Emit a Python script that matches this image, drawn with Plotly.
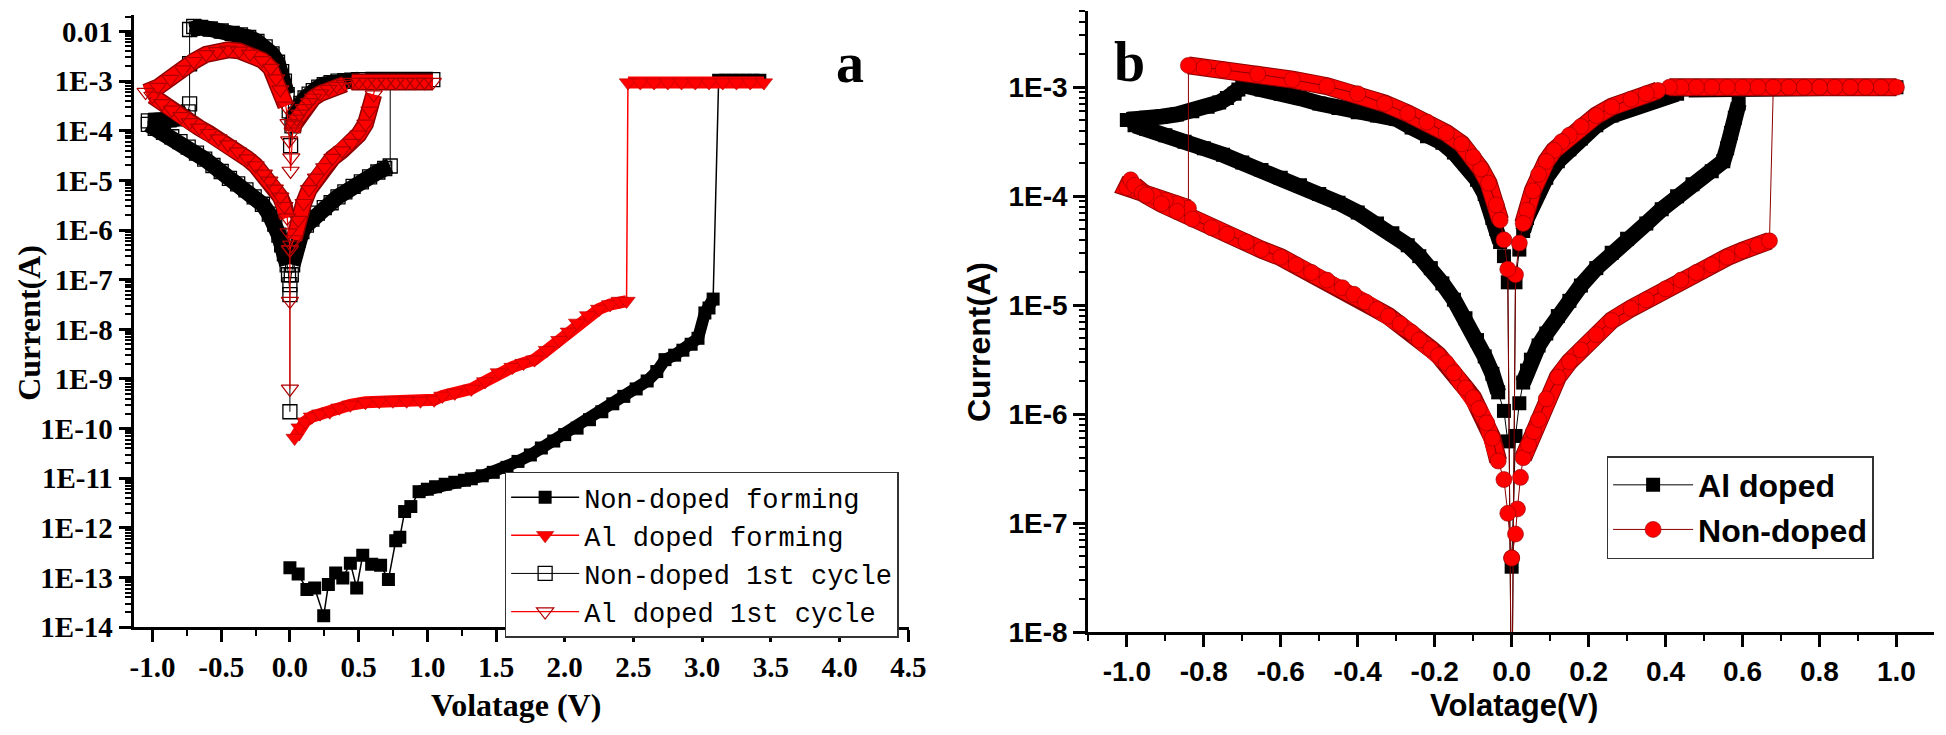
import plotly.graph_objects as go

# ================= Panel a (values are log10 of current in A) =================
# Non-doped forming
ndf_V_noise = [0.0, 0.06, 0.124, 0.18, 0.246, 0.28, 0.333, 0.385, 0.44, 0.486, 0.53, 0.595, 0.66, 0.717, 0.77, 0.80, 0.835, 0.88]
ndf_L_noise = [-12.8, -12.93, -13.24, -13.21, -13.77, -13.14, -12.91, -13.01, -12.71, -13.21, -12.55, -12.73, -12.75, -13.04, -12.26, -12.19, -11.67, -11.57]
ndf_V_rise = [0.94, 1.0, 1.06, 1.13, 1.2, 1.27, 1.32, 1.4, 1.48, 1.58, 1.66, 1.75, 1.83, 1.92, 2.0, 2.09, 2.18, 2.27, 2.35, 2.43, 2.52, 2.6, 2.67, 2.73, 2.8, 2.86, 2.92, 2.97, 3.02, 3.05, 3.08]
ndf_L_rise = [-11.27, -11.22, -11.17, -11.12, -11.08, -11.04, -11.01, -10.95, -10.88, -10.78, -10.66, -10.53, -10.39, -10.25, -10.12, -9.99, -9.82, -9.66, -9.5, -9.35, -9.2, -9.04, -8.85, -8.61, -8.52, -8.42, -8.3, -8.18, -7.67, -7.57, -7.39]
ndf_V_cc = [3.12, 3.17, 3.22, 3.27, 3.32, 3.37, 3.42]
ndf_L_cc = [-2.98, -2.98, -2.98, -2.98, -2.98, -2.98, -2.98]

# Al doped forming
alf_V_rise = [0.034, 0.07, 0.11, 0.16, 0.22, 0.29, 0.36, 0.44, 0.55, 0.65, 0.75, 0.85, 0.95, 1.05, 1.11, 1.2, 1.32, 1.42, 1.52, 1.62, 1.7, 1.78, 1.87, 1.96, 2.03, 2.09, 2.17, 2.25, 2.33, 2.4, 2.45]
alf_L_rise = [-10.19, -9.98, -9.86, -9.76, -9.7, -9.66, -9.58, -9.52, -9.47, -9.45, -9.44, -9.44, -9.44, -9.42, -9.34, -9.28, -9.2, -9.05, -8.87, -8.76, -8.68, -8.61, -8.42, -8.22, -8.05, -7.87, -7.72, -7.59, -7.5, -7.43, -7.43]
alf_V_cc = [2.46, 2.55, 2.65, 2.75, 2.85, 2.95, 3.05, 3.15, 3.25, 3.35, 3.45]
alf_L_cc = [-3.03, -3.03, -3.03, -3.03, -3.03, -3.03, -3.03, -3.03, -3.03, -3.03, -3.03]

# Non-doped 1st cycle
ndc_V_start = [0.0]
ndc_L_start = [-9.66]
ndc_V_hrs_pos = [0.0, 0.01, 0.02, 0.04, 0.06, 0.087, 0.12, 0.16, 0.20, 0.25, 0.30, 0.35, 0.40, 0.46, 0.52, 0.58, 0.64, 0.69, 0.73]
ndc_L_hrs_pos = [-7.1, -6.9, -6.7, -6.4, -6.2, -6.03, -5.9, -5.78, -5.66, -5.55, -5.45, -5.33, -5.23, -5.12, -5.03, -4.93, -4.83, -4.76, -4.71]
ndc_V_cc = [0.73, 0.79, 0.85, 0.91, 0.97, 1.04, 0.97, 0.91, 0.85, 0.79, 0.73, 0.67, 0.61, 0.55]
ndc_L_cc = [-2.97, -2.97, -2.97, -2.97, -2.97, -2.97, -2.97, -2.97, -2.97, -2.97, -2.97, -2.97, -2.97, -2.97]
ndc_V_lrs_pos = [0.50, 0.45, 0.40, 0.35, 0.30, 0.25, 0.21, 0.17, 0.14, 0.11, 0.08, 0.06, 0.04, 0.025, 0.015, 0.005]
ndc_L_lrs_pos = [-2.97, -2.98, -2.99, -3.0, -3.03, -3.07, -3.12, -3.19, -3.26, -3.34, -3.45, -3.55, -3.67, -3.78, -3.9, -4.3]
ndc_V_lrs_neg = [-0.005, -0.02, -0.04, -0.06, -0.09, -0.13, -0.18, -0.24, -0.30, -0.36, -0.42, -0.50, -0.58, -0.65, -0.70, -0.73]
ndc_L_lrs_neg = [-3.6, -3.27, -3.0, -2.81, -2.62, -2.45, -2.31, -2.2, -2.12, -2.07, -2.04, -1.99, -1.95, -1.92, -1.9, -1.96]
ndc_V_reset = [-0.73, -0.73, -0.74, -0.78, -0.83, -0.88, -0.93, -0.98, -1.03]
ndc_L_reset = [-2.65, -3.46, -3.62, -3.72, -3.76, -3.78, -3.79, -3.8, -3.8]
ndc_V_hrs_neg = [-1.03, -0.98, -0.92, -0.86, -0.80, -0.74, -0.68, -0.62, -0.56, -0.50, -0.44, -0.38, -0.32, -0.26, -0.20, -0.15, -0.11, -0.08, -0.06, -0.04, -0.02, -0.01, 0.0]
ndc_L_hrs_neg = [-3.87, -3.95, -4.03, -4.12, -4.22, -4.33, -4.45, -4.57, -4.7, -4.82, -4.96, -5.07, -5.19, -5.33, -5.48, -5.68, -5.88, -6.1, -6.3, -6.48, -6.7, -6.9, -7.3]

# Al doped 1st cycle
alc_V_start = [0.0, 0.0, 0.0]
alc_L_start = [-9.2, -7.43, -6.4]
alc_V_hrs_pos = [0.01, 0.03, 0.06, 0.10, 0.14, 0.19, 0.25, 0.31, 0.38, 0.45, 0.50, 0.55, 0.58, 0.61]
alc_L_hrs_pos = [-6.3, -6.19, -5.8, -5.46, -5.18, -4.95, -4.74, -4.55, -4.4, -4.25, -4.08, -3.86, -3.6, -3.27]
alc_V_cc = [0.63, 0.70, 0.77, 0.84, 0.91, 0.98, 1.04, 0.98, 0.91, 0.84, 0.77, 0.70, 0.63, 0.56, 0.50, 0.45]
alc_L_cc = [-3.02, -3.02, -3.02, -3.02, -3.02, -3.02, -3.02, -3.02, -3.02, -3.02, -3.02, -3.02, -3.02, -3.02, -3.02, -3.02]
alc_V_lrs_pos = [0.40, 0.34, 0.28, 0.22, 0.17, 0.14, 0.10, 0.07, 0.05, 0.03, 0.02, 0.01, 0.005]
alc_L_lrs_pos = [-3.06, -3.1, -3.16, -3.25, -3.34, -3.43, -3.55, -3.66, -3.76, -3.88, -4.02, -4.54, -4.81]
alc_V_lrs_neg = [-0.005, -0.01, -0.03, -0.07, -0.10, -0.14, -0.20, -0.29, -0.37, -0.45, -0.53, -0.61, -0.70, -0.78, -0.87, -0.96, -1.05]
alc_L_lrs_neg = [-4.2, -3.85, -3.5, -3.17, -2.95, -2.74, -2.58, -2.45, -2.39, -2.37, -2.4, -2.46, -2.6, -2.77, -2.96, -3.12, -3.22]
alc_V_hrs_neg = [-1.0, -0.93, -0.86, -0.79, -0.73, -0.66, -0.59, -0.52, -0.45, -0.38, -0.31, -0.25, -0.19, -0.15, -0.11, -0.07, -0.04, -0.02, -0.01, 0.0]
alc_L_hrs_neg = [-3.3, -3.45, -3.58, -3.71, -3.83, -3.94, -4.05, -4.16, -4.28, -4.42, -4.56, -4.7, -4.87, -5.01, -5.17, -5.33, -5.52, -5.75, -6.05, -6.39]

# ================= Panel b =================
# Al doped (black squares)
al_V_start = [0.0]
al_L_start = [-7.4]
al_V_hrs_pos = [0.01, 0.02, 0.03, 0.04, 0.05, 0.07, 0.09, 0.12, 0.15, 0.18, 0.22, 0.26, 0.30, 0.35, 0.39, 0.43, 0.47, 0.52, 0.55, 0.56, 0.57, 0.58, 0.59]
al_L_hrs_pos = [-6.2, -5.9, -5.71, -5.6, -5.5, -5.37, -5.26, -5.1, -4.96, -4.82, -4.66, -4.52, -4.39, -4.25, -4.12, -4.0, -3.89, -3.77, -3.68, -3.56, -3.42, -3.28, -3.15]
al_V_cc = [0.60, 0.65, 0.70, 0.75, 0.80, 0.85, 0.90, 0.95, 1.00, 0.95, 0.90, 0.85, 0.80, 0.75, 0.70, 0.65, 0.60, 0.55, 0.50, 0.46]
al_L_cc = [-3.0, -3.0, -3.0, -3.0, -3.0, -3.0, -3.0, -3.0, -3.0, -3.0, -3.0, -3.0, -3.0, -3.0, -3.0, -3.0, -3.0, -3.0, -3.0, -3.02]
al_V_lrs_pos = [0.43, 0.39, 0.35, 0.30, 0.26, 0.22, 0.18, 0.15, 0.12, 0.09, 0.07, 0.05, 0.04, 0.03, 0.02, 0.01, 0.0]
al_L_lrs_pos = [-3.06, -3.1, -3.14, -3.2, -3.26, -3.35, -3.47, -3.57, -3.68, -3.83, -3.95, -4.1, -4.2, -4.32, -4.49, -4.79, -9.0]
al_V_lrs_neg = [-0.01, -0.02, -0.03, -0.04, -0.05, -0.07, -0.09, -0.12, -0.15, -0.18, -0.22, -0.26, -0.30, -0.35, -0.40, -0.45, -0.50, -0.55, -0.60, -0.65, -0.70]
al_L_lrs_neg = [-4.79, -4.55, -4.42, -4.3, -4.2, -3.98, -3.85, -3.7, -3.6, -3.51, -3.45, -3.37, -3.29, -3.26, -3.23, -3.19, -3.15, -3.1, -3.06, -3.02, -2.98]
al_V_reset = [-0.71, -0.72, -0.74, -0.76, -0.79, -0.83, -0.87, -0.91, -0.95, -0.98, -1.0]
al_L_reset = [-3.02, -3.06, -3.1, -3.14, -3.18, -3.22, -3.25, -3.27, -3.28, -3.29, -3.3]
al_V_hrs_neg = [-0.98, -0.95, -0.90, -0.85, -0.80, -0.75, -0.70, -0.65, -0.60, -0.55, -0.50, -0.45, -0.40, -0.35, -0.31, -0.27, -0.24, -0.21, -0.18, -0.15, -0.12, -0.09, -0.07, -0.05, -0.035, -0.02, -0.01]
al_L_hrs_neg = [-3.35, -3.38, -3.44, -3.5, -3.56, -3.62, -3.69, -3.76, -3.83, -3.9, -3.98, -4.06, -4.15, -4.25, -4.34, -4.45, -4.55, -4.66, -4.8, -4.95, -5.12, -5.32, -5.47, -5.63, -5.8, -5.97, -6.25]

# Non-doped (red circles)
nd_V_start = [0.0]
nd_L_start = [-7.32]
nd_V_hrs_pos = [0.01, 0.015, 0.023, 0.03, 0.044, 0.057, 0.07, 0.09, 0.12, 0.15, 0.18, 0.22, 0.26, 0.31, 0.35, 0.40, 0.44, 0.48, 0.52, 0.56, 0.60, 0.64, 0.67]
nd_L_hrs_pos = [-7.1, -6.87, -6.58, -6.4, -6.28, -6.16, -6.05, -5.86, -5.66, -5.52, -5.41, -5.27, -5.14, -5.03, -4.95, -4.85, -4.77, -4.7, -4.63, -4.56, -4.5, -4.45, -4.41]
nd_V_cc = [0.68, 0.72, 0.76, 0.80, 0.84, 0.88, 0.92, 0.96, 1.00, 0.96, 0.92, 0.88, 0.84, 0.80, 0.76, 0.72, 0.68, 0.64, 0.60, 0.56, 0.52, 0.48, 0.44, 0.41]
nd_L_cc = [-3.0, -3.0, -3.0, -3.0, -3.0, -3.0, -3.0, -3.0, -3.0, -3.0, -3.0, -3.0, -3.0, -3.0, -3.0, -3.0, -3.0, -3.0, -3.0, -3.0, -3.0, -3.0, -3.0, -3.0]
nd_V_lrs_pos = [0.38, 0.35, 0.31, 0.26, 0.22, 0.18, 0.15, 0.13, 0.11, 0.09, 0.07, 0.055, 0.04, 0.03, 0.02, 0.01, 0.0]
nd_L_lrs_pos = [-3.03, -3.06, -3.11, -3.18, -3.26, -3.36, -3.44, -3.5, -3.58, -3.68, -3.8, -3.95, -4.13, -4.25, -4.43, -4.72, -9.0]
nd_V_lrs_neg = [-0.01, -0.02, -0.03, -0.04, -0.06, -0.08, -0.10, -0.13, -0.17, -0.22, -0.27, -0.33, -0.40, -0.48, -0.57, -0.66, -0.75, -0.80, -0.84]
nd_L_lrs_neg = [-4.67, -4.4, -4.22, -4.08, -3.88, -3.75, -3.64, -3.52, -3.42, -3.32, -3.24, -3.15, -3.06, -2.99, -2.93, -2.88, -2.84, -2.82, -2.8]
nd_V_reset = [-0.84, -0.87, -0.90, -0.93, -0.96, -0.99, -1.00, -0.99]
nd_L_reset = [-4.11, -4.07, -4.04, -4.0, -3.96, -3.93, -3.92, -3.85]
nd_V_hrs_neg = [-0.98, -0.96, -0.95, -0.91, -0.87, -0.83, -0.78, -0.74, -0.69, -0.65, -0.60, -0.56, -0.52, -0.48, -0.44, -0.41, -0.38, -0.35, -0.32, -0.29, -0.26, -0.24, -0.21, -0.19, -0.17, -0.15, -0.12, -0.10, -0.085, -0.065, -0.05, -0.035, -0.02, -0.01, 0.0]
nd_L_hrs_neg = [-3.9, -3.97, -3.99, -4.07, -4.14, -4.21, -4.29, -4.35, -4.42, -4.49, -4.56, -4.63, -4.7, -4.77, -4.84, -4.9, -4.97, -5.04, -5.1, -5.17, -5.25, -5.32, -5.4, -5.46, -5.53, -5.62, -5.76, -5.85, -5.95, -6.08, -6.22, -6.43, -6.6, -6.91, -7.32]

# Tick labels
a_xticks = [-1.0, -0.5, 0.0, 0.5, 1.0, 1.5, 2.0, 2.5, 3.0, 3.5, 4.0, 4.5]
a_xticktext = ["-1.0", "-0.5", "0.0", "0.5", "1.0", "1.5", "2.0", "2.5", "3.0", "3.5", "4.0", "4.5"]
a_yticks = [1e-2, 1e-3, 1e-4, 1e-5, 1e-6, 1e-7, 1e-8, 1e-9, 1e-10, 1e-11, 1e-12, 1e-13, 1e-14]
a_yticktext = ["0.01", "1E-3", "1E-4", "1E-5", "1E-6", "1E-7", "1E-8", "1E-9", "1E-10", "1E-11", "1E-12", "1E-13", "1E-14"]
b_xticks = [-1.0, -0.8, -0.6, -0.4, -0.2, 0.0, 0.2, 0.4, 0.6, 0.8, 1.0]
b_xticktext = ["-1.0", "-0.8", "-0.6", "-0.4", "-0.2", "0.0", "0.2", "0.4", "0.6", "0.8", "1.0"]
b_yticks = [1e-3, 1e-4, 1e-5, 1e-6, 1e-7, 1e-8]
b_yticktext = ["1E-3", "1E-4", "1E-5", "1E-6", "1E-7", "1E-8"]


def amps(logs):
    return [10 ** v for v in logs]


def path(*branches):
    xs, ys = [], []
    for V, L in branches:
        assert len(V) == len(L), (len(V), len(L))
        xs += list(V)
        ys += amps(L)
    return xs, ys


def band(vmin, *branches):
    xs, ys = [], []
    for V, L in branches:
        assert len(V) == len(L), (len(V), len(L))
        for v, l in zip(V, L):
            if abs(v) >= vmin:
                xs.append(v)
                ys.append(10 ** l)
            else:
                xs.append(None)
                ys.append(None)
        xs.append(None)
        ys.append(None)
    return xs, ys


fig = go.Figure()


def add_band(xy, color, width, xa, ya):
    fig.add_trace(go.Scatter(x=xy[0], y=xy[1], mode="lines", xaxis=xa, yaxis=ya,
                             line=dict(color=color, width=width), connectgaps=False,
                             showlegend=False, hoverinfo="skip"))


# ---------- panel a traces ----------
add_band(band(0, (ndf_V_rise, ndf_L_rise), (ndf_V_cc, ndf_L_cc)), "black", 12, "x", "y")
x, y = path((ndf_V_noise, ndf_L_noise), (ndf_V_rise, ndf_L_rise), (ndf_V_cc, ndf_L_cc))
fig.add_trace(go.Scatter(x=x, y=y, mode="lines+markers", name="Non-doped forming", xaxis="x", yaxis="y",
                         line=dict(color="black", width=1.5),
                         marker=dict(symbol="square", size=13, color="black"), legend="legend"))

add_band(band(0, (alf_V_rise, alf_L_rise), (alf_V_cc, alf_L_cc)), "#ff0000", 12, "x", "y")
x, y = path((alf_V_rise, alf_L_rise), (alf_V_cc, alf_L_cc))
fig.add_trace(go.Scatter(x=x, y=y, mode="lines+markers", name="Al doped forming", xaxis="x", yaxis="y",
                         line=dict(color="#ff0000", width=1.5),
                         marker=dict(symbol="triangle-down", size=15, color="#ff0000",
                                     line=dict(color="#b00000", width=0.6)), legend="legend"))

ndc_band_branches = [(ndc_V_hrs_pos, ndc_L_hrs_pos), (ndc_V_cc, ndc_L_cc), (ndc_V_lrs_pos, ndc_L_lrs_pos),
                     (ndc_V_lrs_neg, ndc_L_lrs_neg), (ndc_V_reset[2:], ndc_L_reset[2:]),
                     (ndc_V_hrs_neg, ndc_L_hrs_neg)]
add_band(band(0.02, *ndc_band_branches), "black", 16, "x", "y")
x, y = path((ndc_V_start, ndc_L_start), (ndc_V_hrs_pos, ndc_L_hrs_pos), (ndc_V_cc, ndc_L_cc),
            (ndc_V_lrs_pos, ndc_L_lrs_pos), (ndc_V_lrs_neg, ndc_L_lrs_neg), (ndc_V_reset, ndc_L_reset),
            (ndc_V_hrs_neg, ndc_L_hrs_neg))
fig.add_trace(go.Scatter(x=x, y=y, mode="lines+markers", name="Non-doped 1st cycle", xaxis="x", yaxis="y",
                         line=dict(color="black", width=1),
                         marker=dict(symbol="square-open", size=14, color="black", line=dict(width=1.3)),
                         legend="legend"))

alc_band_branches = [(alc_V_hrs_pos, alc_L_hrs_pos), (alc_V_cc, alc_L_cc), (alc_V_lrs_pos, alc_L_lrs_pos),
                     (alc_V_lrs_neg, alc_L_lrs_neg), (alc_V_hrs_neg, alc_L_hrs_neg)]
add_band(band(0.02, *alc_band_branches), "#8b0000", 17, "x", "y")
add_band(band(0.02, *alc_band_branches), "#ff0000", 14, "x", "y")
x, y = path((alc_V_start, alc_L_start), (alc_V_hrs_pos, alc_L_hrs_pos), (alc_V_cc, alc_L_cc),
            (alc_V_lrs_pos, alc_L_lrs_pos), (alc_V_lrs_neg, alc_L_lrs_neg), (alc_V_hrs_neg, alc_L_hrs_neg))
fig.add_trace(go.Scatter(x=x, y=y, mode="lines+markers", name="Al doped 1st cycle", xaxis="x", yaxis="y",
                         line=dict(color="#ff0000", width=1.2),
                         marker=dict(symbol="triangle-down-open", size=15, color="#b00000", line=dict(width=1.2)),
                         legend="legend"))

# ---------- panel b traces ----------
al_band_branches = [(al_V_hrs_pos, al_L_hrs_pos), (al_V_cc, al_L_cc), (al_V_lrs_pos, al_L_lrs_pos),
                    (al_V_lrs_neg, al_L_lrs_neg), (al_V_reset, al_L_reset), (al_V_hrs_neg, al_L_hrs_neg)]
add_band(band(0.03, *al_band_branches), "black", 16, "x2", "y2")
x, y = path((al_V_start, al_L_start), *al_band_branches)
fig.add_trace(go.Scatter(x=x, y=y, mode="lines+markers", name="Al doped", xaxis="x2", yaxis="y2",
                         line=dict(color="black", width=1),
                         marker=dict(symbol="square", size=14, color="black"), legend="legend2"))

nd_band_branches = [(nd_V_hrs_pos, nd_L_hrs_pos), (nd_V_cc, nd_L_cc), (nd_V_lrs_pos, nd_L_lrs_pos),
                    (nd_V_lrs_neg, nd_L_lrs_neg), (nd_V_reset, nd_L_reset), (nd_V_hrs_neg, nd_L_hrs_neg)]
add_band(band(0.03, *nd_band_branches), "#8b0000", 18, "x2", "y2")
add_band(band(0.03, *nd_band_branches), "#ff0000", 16, "x2", "y2")
x, y = path((nd_V_start, nd_L_start), *nd_band_branches)
fig.add_trace(go.Scatter(x=x, y=y, mode="lines+markers", name="Non-doped", xaxis="x2", yaxis="y2",
                         line=dict(color="#8b0000", width=1),
                         marker=dict(symbol="circle", size=16, color="#ff0000",
                                     line=dict(color="#8b0000", width=0.6)), legend="legend2"))

# ---------- layout ----------
W, H = 1946, 735
serif = "Liberation Serif"
sans = "Liberation Sans"


def px_x(p):
    return p / W


def px_y(p):
    return 1 - p / H


def main_axis(domain, rng, tickvals, ticktext, font, minor_dtick, log=False, anchor=None):
    d = dict(domain=domain, range=rng, tickmode="array", tickvals=tickvals, ticktext=ticktext,
             ticks="outside", ticklen=12, tickwidth=2.5, tickcolor="black",
             showline=True, linewidth=3, linecolor="black", mirror=False,
             showgrid=False, zeroline=False, anchor=anchor,
             tickfont=dict(family=font, size=29 if font == serif else 28, color="black", weight="bold"),
             minor=dict(ticks="outside", ticklen=6, tickwidth=2, tickcolor="black", dtick=minor_dtick,
                        showgrid=False))
    if log:
        d["type"] = "log"
    return d


def mirror_axis(overlay, side, rng, tickvals, minor_dtick, anchor, log=False):
    d = dict(overlaying=overlay, side=side, range=rng, tickmode="array", tickvals=tickvals,
             ticks="inside", ticklen=12, tickwidth=2.5, tickcolor="black", showticklabels=False,
             showline=True, linewidth=3, linecolor="black", showgrid=False, zeroline=False, anchor=anchor,
             minor=dict(ticks="inside", ticklen=6, tickwidth=2, tickcolor="black", dtick=minor_dtick,
                        showgrid=False))
    if log:
        d["type"] = "log"
    return d


a_xdom = [px_x(123), px_x(907)]
a_ydom = [px_y(633), px_y(7)]
b_xdom = [px_x(1088), px_x(1943)]
b_ydom = [px_y(638), px_y(3)]
a_xr = [-1.137, 4.507]
a_yr = [-14, -1.665]
b_xr = [-1.1003, 1.0977]
b_yr = [-8, -2.3]

fig.update_layout(
    width=W, height=H, margin=dict(l=0, r=0, t=0, b=0),
    paper_bgcolor="white", plot_bgcolor="white",
    xaxis=main_axis(a_xdom, a_xr, a_xticks, a_xticktext, serif, 0.25, anchor="y"),
    yaxis=main_axis(a_ydom, a_yr, a_yticks, a_yticktext, serif, "D1", log=True, anchor="x"),
    xaxis2=main_axis(b_xdom, b_xr, b_xticks, b_xticktext, sans, 0.1, anchor="y2"),
    yaxis2=main_axis(b_ydom, b_yr, b_yticks, b_yticktext, sans, "D1", log=True, anchor="x2"),
    xaxis3=mirror_axis("x", "top", a_xr, a_xticks, 0.25, "y"),
    yaxis3=mirror_axis("y", "right", a_yr, a_yticks, "D1", "x", log=True),
    xaxis4=mirror_axis("x2", "top", b_xr, b_xticks, 0.1, "y2"),
    yaxis4=mirror_axis("y2", "right", b_yr, b_yticks, "D1", "x2", log=True),
    legend=dict(x=px_x(498), y=px_y(474), xanchor="left", yanchor="top", bgcolor="white",
                bordercolor="#333333", borderwidth=1.5, itemwidth=68, tracegroupgap=0,
                font=dict(family="Liberation Mono", size=27, color="black")),
    legend2=dict(x=px_x(1612), y=px_y(458), xanchor="left", yanchor="top", bgcolor="white",
                 bordercolor="#333333", borderwidth=1.5, itemwidth=80, tracegroupgap=0,
                 font=dict(family=sans, size=32, color="black", weight="bold")),
    showlegend=True,
)

ann = [
    dict(text="Current(A)", x=px_x(17), y=px_y(322), textangle=-90,
         font=dict(family=serif, size=32, color="black", weight="bold")),
    dict(text="Volatage (V)", x=px_x(509), y=px_y(713),
         font=dict(family=serif, size=32, color="black", weight="bold")),
    dict(text="Current(A)", x=px_x(977), y=px_y(341), textangle=-90,
         font=dict(family=sans, size=32, color="black", weight="bold")),
    dict(text="Volatage(V)", x=px_x(1518), y=px_y(713),
         font=dict(family=sans, size=31, color="black", weight="bold")),
    dict(text="a", x=px_x(847), y=px_y(56),
         font=dict(family=serif, size=56, color="black", weight="bold")),
    dict(text="b", x=px_x(1130), y=px_y(55),
         font=dict(family=serif, size=56, color="black", weight="bold")),
]
for a in ann:
    a.update(xref="paper", yref="paper", showarrow=False, xanchor="center", yanchor="middle")
fig.update_layout(annotations=ann)

fig.write_html("out.html")
